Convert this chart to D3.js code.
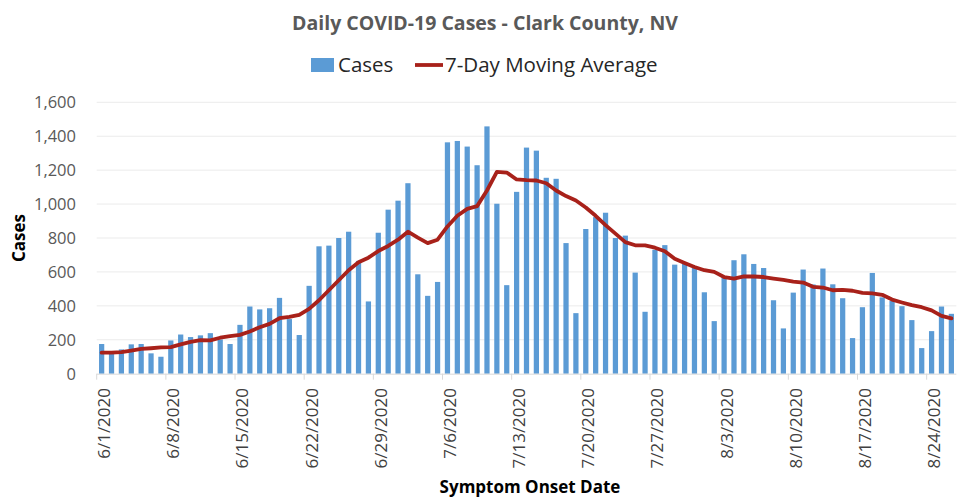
<!DOCTYPE html>
<html>
<head>
<meta charset="utf-8">
<script src="https://cdn.jsdelivr.net/npm/d3@7"></script>
<style>
  html, body { margin: 0; padding: 0; background: #fff; }
  svg { display: block; font-family: "Open Sans", "Noto Sans", sans-serif; }
</style>
</head>
<body>
<div id="chart"></div>
<script>
// daily cases, 6/1/2020 .. 8/26/2020
const startDate = new Date(2020, 5, 1);
const endDate = new Date(2020, 7, 27);
const dates = d3.timeDay.range(startDate, endDate).map(d3.timeFormat("%-m/%-d/%Y"));

const cases = [
  175, 120, 143, 173, 175, 120, 100,
  196, 231, 216, 226, 239, 202, 175,
  288, 396, 379, 386, 447, 322, 228,
  518, 751, 755, 800, 837, 665, 426,
  831, 967, 1020, 1123, 586, 459, 541,
  1364, 1372, 1339, 1229, 1458, 1002, 522,
  1072, 1333, 1315, 1155, 1149, 770, 357,
  853, 923, 949, 800, 814, 596, 365,
  731, 758, 643, 651, 625, 480, 310,
  570, 669, 704, 647, 623, 433, 267,
  478, 614, 526, 620, 527, 445, 210,
  392, 594, 450, 429, 398, 316, 151,
  251, 396, 353
];

const movingAvg = [
  124, 124, 127, 136, 146, 150, 155,
  157, 173, 188, 198, 196, 212, 222,
  229, 249, 274, 294, 327, 335, 347,
  382, 433, 492, 551, 610, 657, 684,
  723, 753, 790, 837, 802, 770, 790,
  868, 931, 972, 988, 1080, 1190, 1186,
  1145, 1141, 1139, 1123, 1080, 1047, 1021,
  980, 931, 876, 826, 776, 757, 757,
  743, 722, 678, 653, 629, 610, 600,
  570, 561, 574, 573, 570, 561, 553,
  543, 537, 512, 508, 492, 494, 489,
  476, 474, 465, 437, 420, 404, 392,
  373, 341, 326
];

const yTicks = [0, 200, 400, 600, 800, 1000, 1200, 1400, 1600];
const xTickLabels = ["6/1/2020", "6/8/2020", "6/15/2020", "6/22/2020", "6/29/2020", "7/6/2020",
  "7/13/2020", "7/20/2020", "7/27/2020", "8/3/2020", "8/10/2020", "8/17/2020", "8/24/2020"];

const W = 958, H = 500;
const plot = { left: 96.7, right: 956.3, top: 102.3, bottom: 373.7 };

const svg = d3.select("#chart").append("svg")
  .attr("width", W).attr("height", H)
  .attr("viewBox", [0, 0, W, H]);

const x = d3.scaleBand()
  .domain(dates)
  .range([plot.left, plot.right])
  .paddingInner(0.47)
  .paddingOuter(0.235);

const y = d3.scaleLinear()
  .domain([0, 1600])
  .range([plot.bottom, plot.top]);

// gridlines
svg.append("g")
  .selectAll("line")
  .data(yTicks.filter(d => d > 0))
  .join("line")
  .attr("x1", plot.left).attr("x2", plot.right)
  .attr("y1", d => y(d)).attr("y2", d => y(d))
  .attr("stroke", "#ebebeb")
  .attr("stroke-width", 1);

// y tick labels
svg.append("g")
  .selectAll("text")
  .data(yTicks)
  .join("text")
  .attr("x", 76)
  .attr("y", d => y(d))
  .attr("dy", "0.36em")
  .attr("text-anchor", "end")
  .attr("font-size", 16.5)
  .attr("fill", "#595959")
  .text(d3.format(","));

// bars
svg.append("g")
  .selectAll("rect")
  .data(cases)
  .join("rect")
  .attr("x", (d, i) => x(dates[i]))
  .attr("width", x.bandwidth())
  .attr("y", d => y(d))
  .attr("height", d => y(0) - y(d))
  .attr("fill", "#5b9bd5");

// x axis line + week ticks
svg.append("line")
  .attr("x1", plot.left).attr("x2", plot.right)
  .attr("y1", plot.bottom + 0.5).attr("y2", plot.bottom + 0.5)
  .attr("stroke", "#d9d9d9").attr("stroke-width", 1);

svg.append("g")
  .selectAll("line")
  .data(xTickLabels)
  .join("line")
  .attr("x1", d => x(d) - x.step() * x.paddingInner() / 2)
  .attr("x2", d => x(d) - x.step() * x.paddingInner() / 2)
  .attr("y1", plot.bottom)
  .attr("y2", plot.bottom + 6)
  .attr("stroke", "#d9d9d9");

// x tick labels (rotated)
svg.append("g")
  .selectAll("text")
  .data(xTickLabels)
  .join("text")
  .attr("transform", d => `translate(${x(d) + x.bandwidth() / 2},388) rotate(-90)`)
  .attr("dy", "0.5em")
  .attr("text-anchor", "end")
  .attr("font-size", 17)
  .attr("fill", "#404040")
  .text(d => d);

// 7-day moving average
const line = d3.line()
  .x((d, i) => x(dates[i]) + x.bandwidth() / 2)
  .y(d => y(d));

svg.append("path")
  .datum(movingAvg)
  .attr("d", line)
  .attr("fill", "none")
  .attr("stroke", "#a8211a")
  .attr("stroke-width", 3.8)
  .attr("stroke-linejoin", "round")
  .attr("stroke-linecap", "round");

// title
svg.append("text")
  .attr("x", 485).attr("y", 30)
  .attr("text-anchor", "middle")
  .attr("font-size", 19.5)
  .attr("font-weight", 700)
  .attr("fill", "#595959")
  .text("Daily COVID-19 Cases - Clark County, NV");

// legend
const legend = svg.append("g");
legend.append("rect")
  .attr("x", 311).attr("y", 58)
  .attr("width", 23).attr("height", 14)
  .attr("fill", "#5b9bd5");
legend.append("text")
  .attr("x", 338).attr("y", 72)
  .attr("font-size", 20.5)
  .attr("fill", "#262626")
  .text("Cases");
legend.append("line")
  .attr("x1", 415).attr("x2", 443)
  .attr("y1", 65).attr("y2", 65)
  .attr("stroke", "#a8211a").attr("stroke-width", 3.8);
legend.append("text")
  .attr("x", 445).attr("y", 72)
  .attr("font-size", 20.5)
  .attr("fill", "#262626")
  .text("7-Day Moving Average");

// axis titles
svg.append("text")
  .attr("transform", "translate(25,238) rotate(-90)")
  .attr("text-anchor", "middle")
  .attr("font-size", 17)
  .attr("font-weight", 700)
  .attr("fill", "#000")
  .text("Cases");

svg.append("text")
  .attr("x", 530).attr("y", 493)
  .attr("text-anchor", "middle")
  .attr("font-size", 17)
  .attr("font-weight", 700)
  .attr("fill", "#000")
  .text("Symptom Onset Date");
</script>
</body>
</html>
